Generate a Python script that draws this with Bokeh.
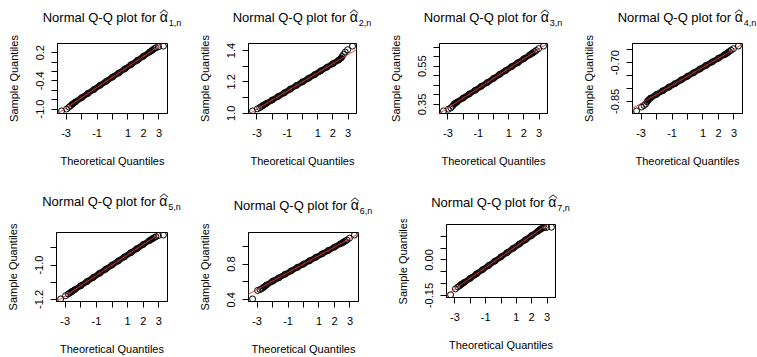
from bokeh.plotting import figure
from bokeh.layouts import row, column
from bokeh.models import Range1d, FixedTicker, Slope, CustomJSTickFormatter, Div
from bokeh.embed import file_html
from bokeh.resources import INLINE

FONT = "Liberation Sans"

# ---------------- data ----------------
theo_q = [-3.29, -2.97, -2.81, -2.70, -2.61, -2.54, -2.40, -2.00, -1.60, -1.20, -0.80, -0.40,
          0.00, 0.40, 0.80, 1.20, 1.60, 2.00, 2.40, 2.54, 2.61, 2.70, 2.81, 2.97, 3.29]

sample_1 = [-1.04, -1.00, -0.96, -0.93, -0.90, -0.885, -0.85, -0.76, -0.67, -0.585, -0.495, -0.41,
            -0.32, -0.235, -0.145, -0.055, 0.035, 0.125, 0.215, 0.245, 0.262, 0.285, 0.305, 0.325, 0.34]
sample_2 = [1.015, 1.028, 1.036, 1.043, 1.049, 1.053, 1.061, 1.084, 1.107, 1.130, 1.154, 1.177,
            1.200, 1.223, 1.246, 1.270, 1.293, 1.316, 1.340, 1.352, 1.362, 1.375, 1.390, 1.405, 1.428]
sample_3 = [0.316, 0.325, 0.332, 0.340, 0.350, 0.355, 0.362, 0.383, 0.404, 0.424, 0.445, 0.465,
            0.486, 0.507, 0.527, 0.548, 0.568, 0.589, 0.610, 0.617, 0.621, 0.626, 0.632, 0.642, 0.655]
sample_4 = [-0.887, -0.872, -0.866, -0.860, -0.852, -0.846, -0.838, -0.823, -0.809, -0.795, -0.781, -0.767,
            -0.753, -0.739, -0.725, -0.711, -0.697, -0.683, -0.669, -0.664, -0.661, -0.657, -0.652, -0.646, -0.636]
sample_5 = [-1.197, -1.178, -1.168, -1.162, -1.157, -1.152, -1.144, -1.120, -1.096, -1.072, -1.048, -1.024,
            -1.000, -0.976, -0.952, -0.928, -0.904, -0.880, -0.857, -0.849, -0.845, -0.840, -0.835, -0.828, -0.825]
sample_6 = [0.410, 0.505, 0.515, 0.525, 0.535, 0.545, 0.565, 0.608, 0.646, 0.685, 0.724, 0.762,
            0.800, 0.838, 0.876, 0.914, 0.952, 0.990, 1.028, 1.041, 1.049, 1.058, 1.070, 1.090, 1.125]
sample_7 = [-0.147, -0.122, -0.114, -0.109, -0.104, -0.101, -0.095, -0.077, -0.059, -0.041, -0.023, -0.005,
            0.013, 0.031, 0.049, 0.067, 0.085, 0.103, 0.121, 0.128, 0.131, 0.134, 0.136, 0.137, 0.138]

qq_intercepts = [-0.32, 1.20, 0.486, -0.753, -1.00, 0.80, 0.013]
qq_slopes = [0.22, 0.058, 0.0515, 0.035, 0.060, 0.095, 0.045]

subscripts = ["1,n", "2,n", "3,n", "4,n", "5,n", "6,n", "7,n"]

x_ticks = [-3, -2, -1, 0, 1, 2, 3]
x_tick_labels = ["-3", "", "-1", "", "1", "2", "3"]

y_ticks_1 = [-1.0, -0.8, -0.6, -0.4, -0.2, 0.0, 0.2]
y_tick_labels_1 = ["-1.0", "", "", "-0.4", "", "", "0.2"]
y_ticks_2 = [1.0, 1.1, 1.2, 1.3, 1.4]
y_tick_labels_2 = ["1.0", "", "1.2", "", "1.4"]
y_ticks_3 = [0.35, 0.40, 0.45, 0.50, 0.55, 0.60, 0.65]
y_tick_labels_3 = ["0.35", "", "", "", "0.55", "", ""]
y_ticks_4 = [-0.85, -0.80, -0.75, -0.70, -0.65]
y_tick_labels_4 = ["-0.85", "", "", "-0.70", ""]
y_ticks_5 = [-1.2, -1.1, -1.0, -0.9]
y_tick_labels_5 = ["-1.2", "", "-1.0", ""]
y_ticks_6 = [0.4, 0.6, 0.8, 1.0]
y_tick_labels_6 = ["0.4", "", "0.8", ""]
y_ticks_7 = [-0.15, -0.10, -0.05, 0.0, 0.05, 0.10]
y_tick_labels_7 = ["-0.15", "", "", "0.00", "", ""]

samples = [sample_1, sample_2, sample_3, sample_4, sample_5, sample_6, sample_7]
y_ticks = [y_ticks_1, y_ticks_2, y_ticks_3, y_ticks_4, y_ticks_5, y_ticks_6, y_ticks_7]
y_tick_labels = [y_tick_labels_1, y_tick_labels_2, y_tick_labels_3, y_tick_labels_4,
                 y_tick_labels_5, y_tick_labels_6, y_tick_labels_7]

# ---------------- layout (page pixel geometry) ----------------
cells = [(0, 0, 191, 189), (191, 0, 191, 189), (382, 0, 191, 189), (573, 0, 184, 189),
         (0, 189, 191, 168), (191, 189, 191, 168), (382, 189, 191, 168)]
frames = [(57, 43, 110, 70), (248, 43, 108, 70), (439, 43, 108, 70), (632, 43, 110, 70),
          (56, 232, 111, 69), (248, 232, 110, 69), (446, 224, 109, 73)]
TITLE_H = 30
title_pad = [10, 10, 10, 10, 5, 9, 6]

FMT_CODE = """
let best = 0; let bd = Infinity;
for (let i = 0; i < tvals.length; i++) {
  const d = Math.abs(tvals[i] - tick);
  if (d < bd) { bd = d; best = i; }
}
return tlabs[best];
"""

HAT_SVG = ('<svg style="position:absolute;left:-0.5px;top:-1px;" width="10" height="5" viewBox="0 0 10 5">'
           '<polyline points="0.8,4.4 5,0.8 9.2,4.4" fill="none" stroke="#000" stroke-width="0.9"/></svg>')


def padded(vals):
    lo, hi = min(vals), max(vals)
    pad = 0.04 * (hi - lo)
    return lo - pad, hi + pad


def title_div(i):
    cx, cy, cw, ch = cells[i]
    fl, ft, fw, fh = frames[i]
    html = (
        f'<div style="margin-left:{fl - cx}px;width:{fw}px;padding-top:{title_pad[i]}px;'
        f'display:flex;justify-content:center;align-items:baseline;white-space:nowrap;'
        f"font-family:'{FONT}';font-size:13px;line-height:15px;color:#000;\">"
        f'<span>Normal Q-Q plot for&nbsp;</span>'
        f'<span style="position:relative;display:inline-block;font-size:14px;">\u03b1{HAT_SVG}</span>'
        f'<span style="font-size:9px;position:relative;top:4px;margin-left:1px;">{subscripts[i]}</span>'
        f'</div>'
    )
    return Div(text=html, width=cw, height=TITLE_H, margin=0, styles={"overflow": "visible"})


def make_panel(i):
    cx, cy, cw, ch = cells[i]
    fl, ft, fw, fh = frames[i]
    ys = samples[i]
    x0, x1 = padded(theo_q)
    y0, y1 = padded(ys)
    fy = cy + TITLE_H
    p = figure(width=cw, height=ch - TITLE_H, margin=0,
               x_range=Range1d(x0, x1), y_range=Range1d(y0, y1),
               toolbar_location=None, output_backend="svg", title_location=None,
               min_border_left=fl - cx, min_border_top=ft - fy,
               min_border_right=cx + cw - (fl + fw),
               min_border_bottom=cy + ch - (ft + fh),
               background_fill_color="white", border_fill_color="white",
               outline_line_color="black", outline_line_width=1)
    p.grid.visible = False

    p.xaxis.ticker = FixedTicker(ticks=x_ticks, minor_ticks=[])
    p.xaxis.formatter = CustomJSTickFormatter(args=dict(tvals=x_ticks, tlabs=x_tick_labels), code=FMT_CODE)
    p.yaxis.ticker = FixedTicker(ticks=y_ticks[i], minor_ticks=[])
    p.yaxis.formatter = CustomJSTickFormatter(args=dict(tvals=y_ticks[i], tlabs=y_tick_labels[i]), code=FMT_CODE)
    p.yaxis.major_label_orientation = "vertical"
    p.xaxis.axis_label = "Theoretical Quantiles"
    p.yaxis.axis_label = "Sample Quantiles"
    for ax in (p.xaxis[0], p.yaxis[0]):
        ax.axis_line_color = "black"
        ax.major_tick_line_color = "black"
        ax.major_tick_out = 6
        ax.major_tick_in = 0
        ax.minor_tick_line_color = None
        ax.major_label_text_font = FONT
        ax.major_label_text_font_size = "11px"
        ax.major_label_text_color = "black"
        ax.axis_label_text_font = FONT
        ax.axis_label_text_font_size = "11px"
        ax.axis_label_text_font_style = "normal"
        ax.axis_label_text_color = "black"
    p.xaxis.major_label_standoff = 9
    p.xaxis.axis_label_standoff = 15
    p.yaxis.major_label_standoff = 7
    p.yaxis.axis_label_standoff = 14

    # dense band of overlapping points in the body of the distribution
    bx = [x for x in theo_q if abs(x) <= 2.55]
    by = [y for x, y in zip(theo_q, ys) if abs(x) <= 2.55]
    p.line(bx, by, line_width=6, line_color="#1f1616", line_cap="round")
    p.scatter(theo_q, ys, marker="circle", size=6, fill_color=None,
              line_color="black", line_width=1)
    p.add_layout(Slope(gradient=qq_slopes[i], y_intercept=qq_intercepts[i],
                       line_color="#e03434", line_width=1, line_alpha=0.9))
    return column(title_div(i), p, spacing=0, margin=0)


panels = [make_panel(i) for i in range(7)]
p = column(row(*panels[:4], spacing=0, margin=0), row(*panels[4:], spacing=0, margin=0),
           spacing=0, margin=0)

open("out.html", "w").write(file_html(p, INLINE))
